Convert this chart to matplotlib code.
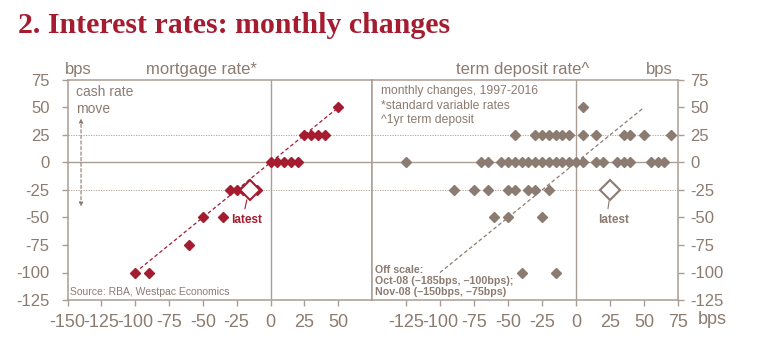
import matplotlib
matplotlib.use("Agg")
import matplotlib.pyplot as plt
from matplotlib import font_manager as fm

# --- data (bps, monthly changes) ---
mort_x = [-100, -90, -60, -50, -35, -30, -25, -20, -10, 0, 5, 10, 15, 20, 25, 30, 35, 40, 50]
mort_y = [-100, -100, -75, -50, -50, -25, -25, -25, -25, 0, 0, 0, 0, 0, 25, 25, 25, 25, 50]
mort_latest = (-15, -25)

td_x = ([5]
        + [-45, -30, -25, -20, -15, -10, -5, 5, 15, 35, 40, 50, 70]
        + [-125, -70, -65, -55, -50, -45, -40, -35, -30, -25, -20, -15, -10, -5, 0, 5, 15, 20, 30, 35, 40, 55, 60, 65]
        + [-90, -75, -65, -50, -45, -35, -30, -20]
        + [-60, -50, -25]
        + [-40, -15])
td_y = ([50] + [25] * 13 + [0] * 24 + [-25] * 8 + [-50] * 3 + [-100] * 2)
td_latest = (25, -25)

# one-for-one pass-through line
fit_x = [-100, 50]
fit_y = [-100, 50]

x_ticks_left = [-150, -125, -100, -75, -50, -25, 0, 25, 50]
x_ticks_right = [-125, -100, -75, -50, -25, 0, 25, 50, 75]
y_ticks = [75, 50, 25, 0, -25, -50, -75, -100, -125]

RED = "#a51c30"
TAUPE = "#8c7b70"
LINE = "#aa9d94"

names = {f.name for f in fm.fontManager.ttflist}
narrow = "Liberation Sans Narrow" if "Liberation Sans Narrow" in names else "Liberation Sans"
plt.rcParams["font.family"] = ["Liberation Sans", "DejaVu Sans"]
plt.rcParams["axes.unicode_minus"] = False

fig = plt.figure(figsize=(7.84, 3.54), dpi=100)
W, H = 784, 354
bot = 1 - 300 / H
hgt = 220 / H
ax1 = fig.add_axes([67.5 / W, bot, 304.5 / W, hgt])
ax2 = fig.add_axes([372 / W, bot, 306 / W, hgt])

fig.text(18 / W, 1 - 33 / H, "2. Interest rates: monthly changes", family="Liberation Serif",
         weight="bold", fontsize=21.5, color=RED, va="baseline")

for ax in (ax1, ax2):
    ax.set_xlim(-150, 75)
    ax.set_ylim(-125, 75)
    for s in ax.spines.values():
        s.set_color(LINE)
        s.set_linewidth(1.1)
    ax.axhline(0, color=LINE, lw=1.0, zorder=1)
    ax.axvline(0, color=LINE, lw=1.0, zorder=1)
    for yv in (25, -25):
        ax.axhline(yv, color="#a89b92", lw=0.6, ls=(0, (1.5, 1.5)), zorder=1)
    ax.set_yticks(y_ticks)
    ax.tick_params(axis="x", direction="out", length=4, width=1, color=LINE,
                   labelcolor=TAUPE, labelsize=13, pad=6)
    ax.tick_params(axis="y", direction="out", length=4, width=1, color=LINE,
                   labelcolor=TAUPE, labelsize=12)

ax1.set_xticks(x_ticks_left)
ax1.set_xticklabels([str(v) for v in x_ticks_left], family=narrow)
ax1.tick_params(axis="y", pad=9)
ax2.set_xticks(x_ticks_right)
ax2.set_xticklabels([str(v) for v in x_ticks_right], family=narrow)
ax2.yaxis.tick_right()
ax2.tick_params(axis="y", pad=5)

# mortgage panel
ax1.plot(fit_x, fit_y, color=RED, lw=0.9, ls=(0, (3, 2)), zorder=2)
ax1.plot(mort_x, mort_y, "D", color=RED, ms=5, zorder=3)
ax1.plot(*mort_latest, "D", mfc="white", mec=RED, mew=1.5, ms=10, zorder=4)
ax1.annotate("latest", xy=(-17.5, -34), xytext=(-17.5, -47), color=RED, fontsize=8.5,
             weight="bold", ha="center", va="top",
             arrowprops=dict(arrowstyle="-", color=RED, lw=0.8, shrinkA=2, shrinkB=0,
                             relpos=(0.4, 1.0)))

ax1.text(-152, 78, "bps", fontsize=12, color=TAUPE, ha="left", va="bottom")
ax1.text(-51, 78, "mortgage rate*", fontsize=12, color=TAUPE, ha="center", va="bottom")
ax1.text(0.028, 0.975, "cash rate\nmove", transform=ax1.transAxes, fontsize=10, color=TAUPE,
         ha="left", va="top", linespacing=1.2)
ax1.annotate("", xy=(-140, 40), xytext=(-140, -40),
             arrowprops=dict(arrowstyle="<|-|>", color=TAUPE, lw=0.8, ls=(0, (3, 2)),
                             mutation_scale=6, shrinkA=0, shrinkB=0))
ax1.text(0.008, 0.015, "Source: RBA, Westpac Economics", transform=ax1.transAxes,
         fontsize=7.5, color=TAUPE, ha="left", va="bottom")

# term deposit panel
ax2.plot(fit_x, fit_y, color=TAUPE, lw=0.9, ls=(0, (3, 2)), zorder=2)
ax2.plot(td_x, td_y, "D", color=TAUPE, ms=5, zorder=3)
ax2.plot(*td_latest, "D", mfc="white", mec=TAUPE, mew=1.5, ms=10, zorder=4)
ax2.annotate("latest", xy=(24.3, -35), xytext=(27.5, -47), color=TAUPE, fontsize=8.5,
             weight="bold", ha="center", va="top",
             arrowprops=dict(arrowstyle="-", color=TAUPE, lw=0.8, shrinkA=2, shrinkB=0,
                             relpos=(0.3, 1.0)))

ax2.text(-39, 78, "term deposit rate^", fontsize=12, color=TAUPE, ha="center", va="bottom")
ax2.text(61.5, 78, "bps", fontsize=12, color=TAUPE, ha="center", va="bottom")
ax2.text(0.028, 0.975, "monthly changes, 1997-2016\n*standard variable rates\n^1yr term deposit",
         transform=ax2.transAxes, fontsize=8.7, color=TAUPE, ha="left", va="top", linespacing=1.25)
ax2.text(0.01, 0.012, "Off scale:\nOct-08 (\u2013185bps, \u2013100bps);\nNov-08 (\u2013150bps, \u201375bps)",
         transform=ax2.transAxes, fontsize=7.7, color=TAUPE, weight="bold", ha="left", va="bottom",
         linespacing=1.15)
fig.text(712 / W, 1 - 320 / H, "bps", fontsize=13, family=narrow, color=TAUPE, ha="center", va="center")

fig.savefig("out.png", dpi=100)
